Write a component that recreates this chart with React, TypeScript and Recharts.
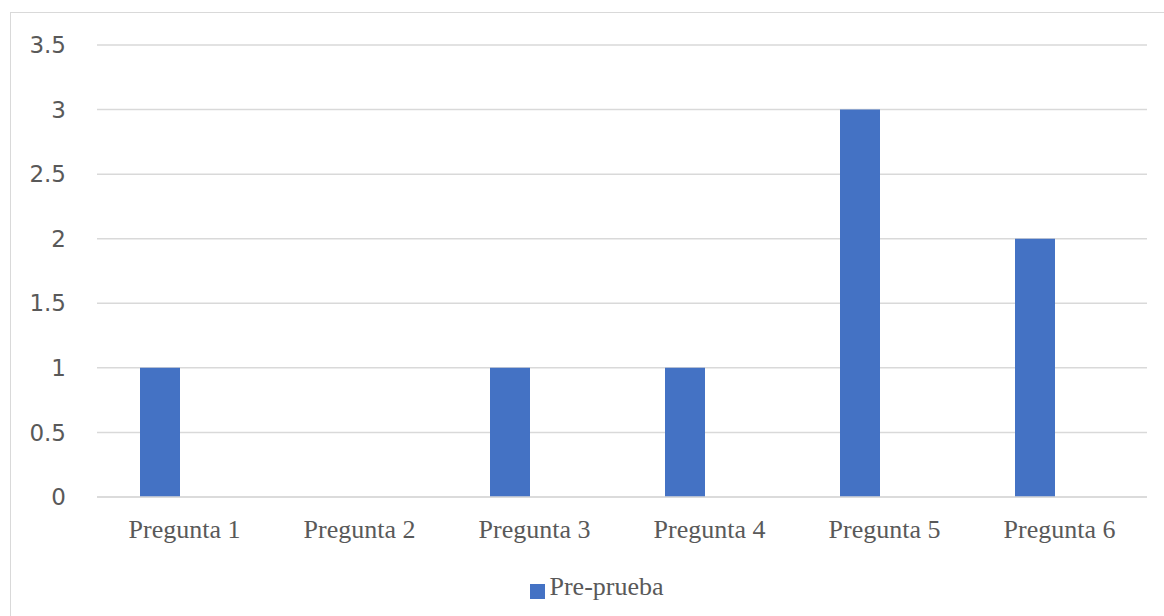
import { Bar, BarChart, CartesianGrid, Legend, XAxis, YAxis } from "recharts";

const categories = ["Pregunta 1", "Pregunta 2", "Pregunta 3", "Pregunta 4", "Pregunta 5", "Pregunta 6"];
const prePrueba = [1, 0, 1, 1, 3, 2];
const postPrueba = [0, 0, 0, 0, 0, 0];
const yTicks = [0, 0.5, 1, 1.5, 2, 2.5, 3, 3.5];
const boundaryTicks = [0, 1, 2, 3, 4, 5, 6];

const data = categories.map((name, i) => ({
  name,
  idx: i + 0.5,
  pre: prePrueba[i],
  post: postPrueba[i]
}));

const grey = "#d9d9d9";
const textGrey = "#595959";
const serif = "'Liberation Serif', 'Times New Roman', serif";

export default function App() {
  return (
    <div style={{ position: "absolute", left: 0, top: 0, width: 1164, height: 616, overflow: "hidden", background: "#fff" }}>
      <div
        style={{
          position: "absolute",
          left: 10,
          top: 12,
          width: 1200,
          height: 700,
          border: `1.5px solid ${grey}`
        }}
      />
      <div style={{ position: "absolute", left: 0, top: 0 }}>
        <BarChart
          width={1164}
          height={616}
          data={data}
          margin={{ top: 45, right: 17, left: 0, bottom: 53 }}
          barSize={40}
          barGap={9}
        >
          <CartesianGrid vertical={false} stroke={grey} strokeWidth={1.5} xAxisId="b" />
          {/* boundary tick marks between categories */}
          <XAxis
            xAxisId="a"
            dataKey="idx"
            type="number"
            domain={[0, 6]}
            ticks={boundaryTicks}
            tick={false}
            tickSize={6}
            stroke={grey}
            strokeWidth={1.5}
            height={6}
          />
          <XAxis
            xAxisId="b"
            dataKey="name"
            axisLine={false}
            tickLine={false}
            tickMargin={11}
            height={60}
            tick={{ fill: textGrey, fontSize: 26, fontFamily: serif }}
          />
          <YAxis
            domain={[0, 3.5]}
            ticks={yTicks}
            width={97}
            axisLine={false}
            tickLine={false}
            tickMargin={25}
            tick={{ fill: textGrey, fontSize: 23, fontFamily: "'DejaVu Sans', Verdana, sans-serif" }}
          />
          <Legend
            layout="horizontal"
            align="center"
            verticalAlign="middle"
            iconType="square"
            iconSize={15}
            wrapperStyle={{ top: 572, left: 0, width: 1204 }}
            formatter={(value) => (
              <span style={{ color: textGrey, fontSize: 26, fontFamily: serif }}>{value}</span>
            )}
          />
          <Bar xAxisId="b" dataKey="pre" name="Pre-prueba" fill="#4472c4" isAnimationActive={false} />
          <Bar xAxisId="b" dataKey="post" name="Post-prueba" fill="#ed7d31" legendType="none" isAnimationActive={false} />
        </BarChart>
      </div>
    </div>
  );
}
